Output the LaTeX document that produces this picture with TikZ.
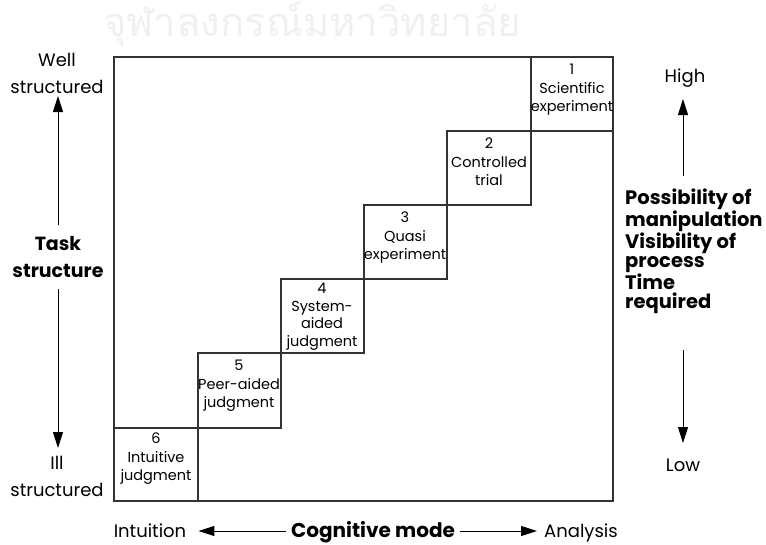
\documentclass[tikz,border=0pt]{standalone}
\usepackage{fontspec}
\setmainfont{Poppins}
\newfontfamily\thaifont[Script=Thai]{Loma}
\usetikzlibrary{arrows.meta}

\tikzset{
  frame/.style={draw=black!80, line width=1.2pt},
  cell/.style={draw=black!80, line width=1.1pt},
  celltext/.style={anchor=north, align=center, inner sep=0pt,
    font=\fontsize{14.5}{18.5}\selectfont},
  sidetext/.style={align=center, inner sep=0pt, font=\fontsize{18}{27}\selectfont},
  axisarrow/.style={draw=black, line width=1pt,
    -{Triangle[length=16pt,width=10pt]}},
  boldtext/.style={inner sep=0pt, font=\fontsize{19.5}{19.1}\selectfont\bfseries}
}

\begin{document}
\begin{tikzpicture}[x=1pt,y=-1pt]
\useasboundingbox (0,0) rectangle (766,544);

% faint letterhead text
\node[text=black!6, font=\thaifont\fontsize{40}{40}\selectfont] (wm) at (312,24) {จุฬาลงกรณ์มหาวิทยาลัย};

% outer frame
\draw[frame] (114,57) rectangle (613,501);

% staircase of six cells
\draw[cell] (531,57)  rectangle (613,131);
\draw[cell] (447,131) rectangle (531,205);
\draw[cell] (364,205) rectangle (447,279);
\draw[cell] (281,279) rectangle (364,353);
\draw[cell] (198,353) rectangle (281,428);
\draw[cell] (114,428) rectangle (198,501);

\node[celltext] (c1) at (572,64)  {1\\Scientific\\experiment};
\node[celltext] (c2) at (489,138) {2\\Controlled\\trial};
\node[celltext] (c3) at (405,212) {3\\Quasi\\experiment};
\node[celltext, font=\fontsize{14.5}{17.7}\selectfont] (c4) at (322,283) {4\\System-\\aided\\judgment};
\node[celltext] (c5) at (239,360) {5\\Peer-aided\\judgment};
\node[celltext] (c6) at (156,433) {6\\Intuitive\\judgment};

% left axis: task structure
\node[sidetext] (well) at (57,73) {Well\\structured};
\node[sidetext] (ill) at (57,476) {Ill\\structured};
\node[sidetext, font=\fontsize{19}{27}\selectfont\bfseries] (task) at (58,257) {Task\\structure};
\coordinate (tup) at (58,225);
\coordinate (tdn) at (58,289);
\coordinate (ttop) at (58,96);
\coordinate (tbot) at (58,448);
\draw[axisarrow] (tup) -- (ttop);
\draw[axisarrow] (tdn) -- (tbot);

% right axis
\node[sidetext] (high) at (685,78) {High};
\node[sidetext] (low) at (683,465) {Low};
\node[boldtext, align=left, anchor=north west] (props) at (625,189)
  {Possibility of\\manipulation\\Visibility of\\process\\Time\\required};
\coordinate (rup) at (683,176);
\coordinate (rdn) at (683,350);
\coordinate (rtop) at (683,99);
\coordinate (rbot) at (683,443);
\draw[axisarrow] (rup) -- (rtop);
\draw[axisarrow] (rdn) -- (rbot);

% bottom axis: cognitive mode
\node[sidetext, anchor=base] (intu) at (150,537) {Intuition};
\node[sidetext, anchor=base, font=\fontsize{20}{27}\selectfont\bfseries] (cog) at (373,537) {Cognitive mode};
\node[sidetext, anchor=base] (ana) at (581,537) {Analysis};
\coordinate (bl0) at ([xshift=-5pt]cog.west |- 0,531);
\coordinate (bl1) at ([xshift=12pt]intu.east |- 0,531);
\coordinate (br0) at ([xshift=5pt]cog.east |- 0,531);
\coordinate (br1) at ([xshift=-7pt]ana.west |- 0,531);
\draw[axisarrow] (bl0) -- (bl1);
\draw[axisarrow] (br0) -- (br1);
\end{tikzpicture}
\end{document}
